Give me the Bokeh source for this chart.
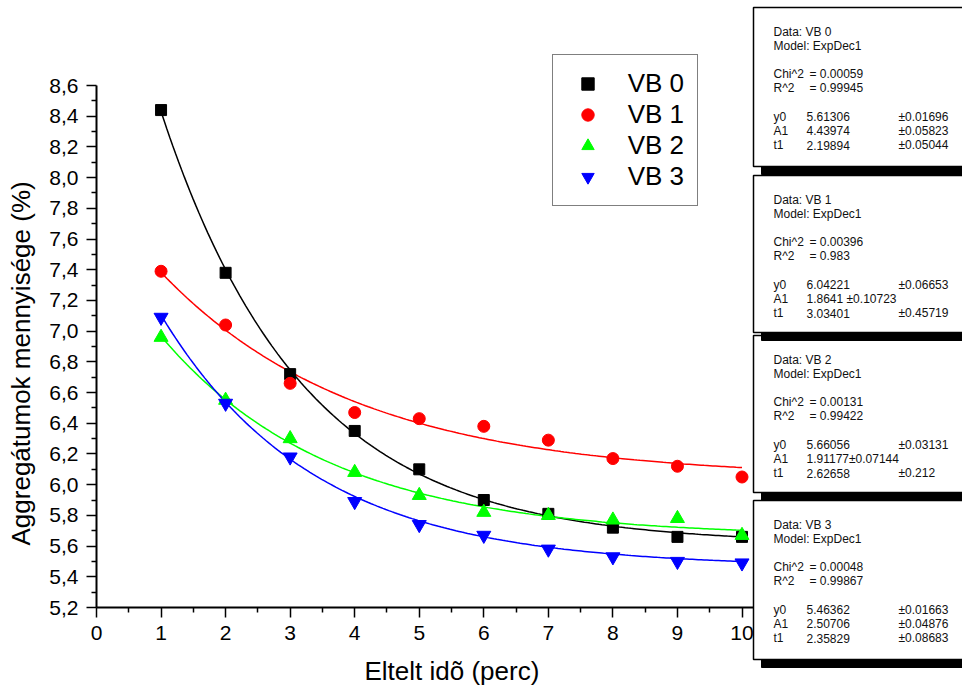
import numpy as np
from bokeh.plotting import figure
from bokeh.models import Range1d, FixedTicker, Legend, LegendItem
from bokeh.embed import file_html
from bokeh.resources import INLINE
from bokeh.core.properties import value

# ---------------- data ----------------
minutes = [1, 2, 3, 4, 5, 6, 7, 8, 9, 10]
vb0 = [8.44, 7.38, 6.72, 6.35, 6.10, 5.90, 5.81, 5.72, 5.66, 5.66]
vb1 = [7.39, 7.04, 6.66, 6.47, 6.43, 6.38, 6.29, 6.17, 6.12, 6.05]
vb2 = [6.96, 6.55, 6.30, 6.08, 5.93, 5.82, 5.80, 5.77, 5.78, 5.67]
vb3 = [7.09, 6.53, 6.18, 5.89, 5.74, 5.67, 5.58, 5.53, 5.50, 5.49]
series = [vb0, vb1, vb2, vb3]
series_names = ["VB 0", "VB 1", "VB 2", "VB 3"]
colors = ["#000000", "#FF0000", "#00FF00", "#0000FF"]
markers = ["square", "circle", "triangle", "inverted_triangle"]
marker_sizes = [11, 12, 14, 14]

# ExpDec1 fit results: y = y0 + A1*exp(-x/t1)
fit_y0 = [5.61306, 6.04221, 5.66056, 5.46362]
fit_A1 = [4.43974, 1.8641, 1.91177, 2.50706]
fit_t1 = [2.19894, 3.03401, 2.62658, 2.35829]
fit_y0_txt = ["5.61306", "6.04221", "5.66056", "5.46362"]
fit_A1_txt = ["4.43974", "1.8641 \u00b10.10723", "1.91177\u00b10.07144", "2.50706"]
fit_t1_txt = ["2.19894", "3.03401", "2.62658", "2.35829"]
fit_y0_err = ["\u00b10.01696", "\u00b10.06653", "\u00b10.03131", "\u00b10.01663"]
fit_A1_err = ["\u00b10.05823", "", "", "\u00b10.04876"]
fit_t1_err = ["\u00b10.05044", "\u00b10.45719", "\u00b10.212", "\u00b10.08683"]
fit_chi2 = ["0.00059", "0.00396", "0.00131", "0.00048"]
fit_r2 = ["0.99945", "0.983", "0.99422", "0.99867"]

x_ticks = [0, 1, 2, 3, 4, 5, 6, 7, 8, 9, 10]
x_minor = [0.5, 1.5, 2.5, 3.5, 4.5, 5.5, 6.5, 7.5, 8.5, 9.5]
y_ticks = [5.2, 5.4, 5.6, 5.8, 6.0, 6.2, 6.4, 6.6, 6.8, 7.0, 7.2, 7.4, 7.6, 7.8, 8.0, 8.2, 8.4, 8.6]
y_tick_labels = ["5,2", "5,4", "5,6", "5,8", "6,0", "6,2", "6,4", "6,6", "6,8", "7,0",
                 "7,2", "7,4", "7,6", "7,8", "8,0", "8,2", "8,4", "8,6"]
y_minor = [5.3, 5.5, 5.7, 5.9, 6.1, 6.3, 6.5, 6.7, 6.9, 7.1, 7.3, 7.5, 7.7, 7.9, 8.1, 8.3, 8.5]

x_title = "Eltelt id\u00f5 (perc)"
y_title = "Aggreg\u00e1tumok mennyis\u00e9ge (%)"

FONT = "Liberation Sans"

# ---------------- geometry (canvas pixels) ----------------
W, H = 962, 688
AX_X, AX_Y = 96, 607                # where x=0 and y=5.2 sit on the canvas
XS = 64.55                          # px per minute
YS = 522 / 3.4                      # px per percent


def dx(px):
    return (px - AX_X) / XS


def dy(py):
    return 5.2 + (AX_Y - py) / YS


p = figure(width=W, height=H,
           x_range=Range1d(dx(0), dx(W)), y_range=Range1d(dy(H), dy(0)),
           output_backend="svg", toolbar_location=None, min_border=0)
p.xgrid.visible = False
p.ygrid.visible = False
p.outline_line_color = None
p.background_fill_color = "white"
p.border_fill_color = "white"

p.xaxis.fixed_location = 5.2
p.yaxis.fixed_location = 0
p.xaxis.ticker = FixedTicker(ticks=x_ticks, minor_ticks=x_minor)
p.yaxis.ticker = FixedTicker(ticks=y_ticks, minor_ticks=y_minor)
p.yaxis.major_label_overrides = {t: l for t, l in zip(y_ticks, y_tick_labels)}
p.xaxis.major_label_overrides = {t: str(t) for t in x_ticks}
p.yaxis.bounds = (5.2, 8.6)
p.xaxis.bounds = (0, dx(753))

for ax in [p.xaxis[0], p.yaxis[0]]:
    ax.axis_line_width = 2
    ax.axis_line_color = "black"
    ax.major_tick_line_width = 1.5
    ax.minor_tick_line_width = 1.5
    ax.major_tick_line_color = "black"
    ax.minor_tick_line_color = "black"
    ax.major_tick_in = 0
    ax.major_tick_out = 10
    ax.minor_tick_in = 0
    ax.minor_tick_out = 5
    ax.major_label_text_font = FONT
    ax.major_label_text_font_size = "21px"
    ax.major_label_text_color = "black"
    ax.major_label_standoff = 8

# ---------------- axis titles ----------------
p.text(x=[dx(20)], y=[dy(545)], text=[y_title], angle=np.pi / 2,
       text_font=value(FONT), text_font_size="26px", text_color="black",
       text_align="left", text_baseline="middle")
p.text(x=[dx(364)], y=[dy(670)], text=[x_title],
       text_font=value(FONT), text_font_size="26px", text_color="black",
       text_align="left", text_baseline="middle")

# ---------------- fit-result boxes ----------------
box_top = [7, 175, 335, 500]
box_bottom = [166, 332, 492, 659]
box_left = 753
box_right = 1100
shadow = 8

for k in [3, 2, 1, 0]:
    p.quad(left=[dx(box_left + shadow)], right=[dx(box_right + shadow)],
           top=[dy(box_top[k] + shadow)], bottom=[dy(box_bottom[k] + shadow)],
           fill_color="black", line_color="black")
    p.quad(left=[dx(box_left)], right=[dx(box_right)],
           top=[dy(box_top[k])], bottom=[dy(box_bottom[k])],
           fill_color="white", line_color="black", line_width=1.5)

tx, ty, tt = [], [], []
col1, col_eq, col2, col3 = 773, 809, 806, 898
ls = 14.2
for k in range(4):
    t0 = box_top[k] + 24
    rows = [
        (0, col1, "Data: " + series_names[k]),
        (1, col1, "Model: ExpDec1"),
        (3, col1, "Chi^2"), (3, col_eq, "= " + fit_chi2[k]),
        (4, col1, "R^2"), (4, col_eq, "= " + fit_r2[k]),
        (6, col1, "y0"), (6, col2, fit_y0_txt[k]), (6, col3, fit_y0_err[k]),
        (7, col1, "A1"), (7, col2, fit_A1_txt[k]), (7, col3, fit_A1_err[k]),
        (8, col1, "t1"), (8, col2, fit_t1_txt[k]), (8, col3, fit_t1_err[k]),
    ]
    for (ri, cx, s) in rows:
        if s:
            tx.append(dx(cx))
            ty.append(dy(t0 + ri * ls))
            tt.append(s)

p.text(x=tx, y=ty, text=tt, text_font=value(FONT), text_font_size="12px",
       text_baseline="middle", text_align="left", text_color="#111111")

# ---------------- data marks ----------------
xs = np.linspace(minutes[0], minutes[-1], 200)
renderers = []
for k in range(4):
    fy = fit_y0[k] + fit_A1[k] * np.exp(-xs / fit_t1[k])
    p.line(xs, fy, line_color=colors[k], line_width=1.5)
for k in range(4):
    r = p.scatter(minutes, series[k], marker=markers[k], size=marker_sizes[k],
                  fill_color=colors[k], line_color=colors[k])
    renderers.append(r)

legend = Legend(items=[LegendItem(label=series_names[k], renderers=[renderers[k]]) for k in range(4)],
                location=(551.7, H - 205.7))
legend.border_line_color = "black"
legend.border_line_width = 1.5
legend.background_fill_color = "white"
legend.background_fill_alpha = 1.0
legend.label_text_font = FONT
legend.label_text_font_size = "26px"
legend.label_text_color = "black"
legend.padding = 13
legend.spacing = 0
legend.margin = 0
legend.glyph_width = 43
legend.glyph_height = 31
legend.label_height = 31
legend.label_standoff = 19
p.add_layout(legend)

open("out.html", "w").write(file_html(p, INLINE))
